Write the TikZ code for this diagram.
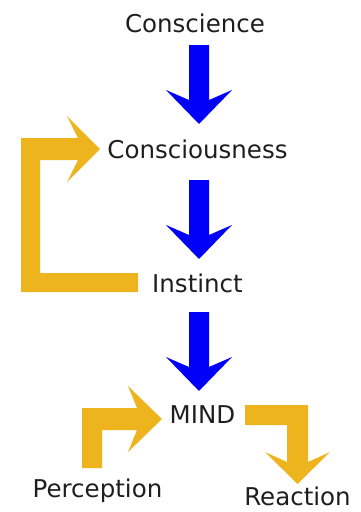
\documentclass[tikz,border=0pt]{standalone}
\usepackage{fontspec}
\setmainfont{DejaVu Sans}
\usepackage{xcolor}
\usepackage{tikz}
\usetikzlibrary{positioning}

\definecolor{mindblue}{RGB}{0,0,250}
\definecolor{mindgold}{RGB}{237,180,30}
\definecolor{mindtext}{RGB}{30,30,30}

\tikzset{
  label/.style={anchor=base,inner sep=0pt,text=mindtext,font=\fontsize{24.5}{28}\selectfont},
  bluearrow/.style={fill=mindblue},
  goldarrow/.style={fill=mindgold}
}

\begin{document}
\begin{tikzpicture}[x=1pt,y=-1pt]
  \useasboundingbox (0,0) rectangle (360,512);
  % 文字
  \node[label] (conscience) at (195,32) {Conscience};
  \node[label] (consciousness) at (197.5,158) {Consciousness};
  \node[label] (instinct) at (197.5,292) {Instinct};
  \node[label] (mind) at (202.5,423) {MIND};
  \node[label] (perception) at (97.5,497) {Perception};
  \node[label] (reaction) at (297.5,505.5) {Reaction};
  % 蓝色箭头
  \fill[bluearrow,shift={(199,45)}] (-10,0) -- (10,0) -- (10,55) -- (33,45) -- (0,79) -- (-33,45) -- (-10,55) -- cycle;
  \fill[bluearrow,shift={(199,180)}] (-10,0) -- (10,0) -- (10,55) -- (33,45) -- (0,79) -- (-33,45) -- (-10,55) -- cycle;
  \fill[bluearrow,shift={(199,312)}] (-10,0) -- (10,0) -- (10,55) -- (33,45) -- (0,79) -- (-33,45) -- (-10,55) -- cycle;
  % 回路
  \fill[goldarrow] (78,138) -- (21,138) -- (21,292) -- (138,292) -- (138,273) -- (40,273)
    -- (40,160) -- (78,160) -- (67,182) -- (100,149) -- (67,116) -- cycle;
  % 感知
  \fill[goldarrow] (82,468) -- (82,408) -- (137,408) -- (128,386) -- (162,419) -- (128,452)
    -- (137,430) -- (102,430) -- (102,468) -- cycle;
  % 反应
  \fill[goldarrow] (245,405) -- (308,405) -- (308,462) -- (330,452) -- (297.5,484) -- (265,452)
    -- (287,462) -- (287,425) -- (245,425) -- cycle;
\end{tikzpicture}
\end{document}
